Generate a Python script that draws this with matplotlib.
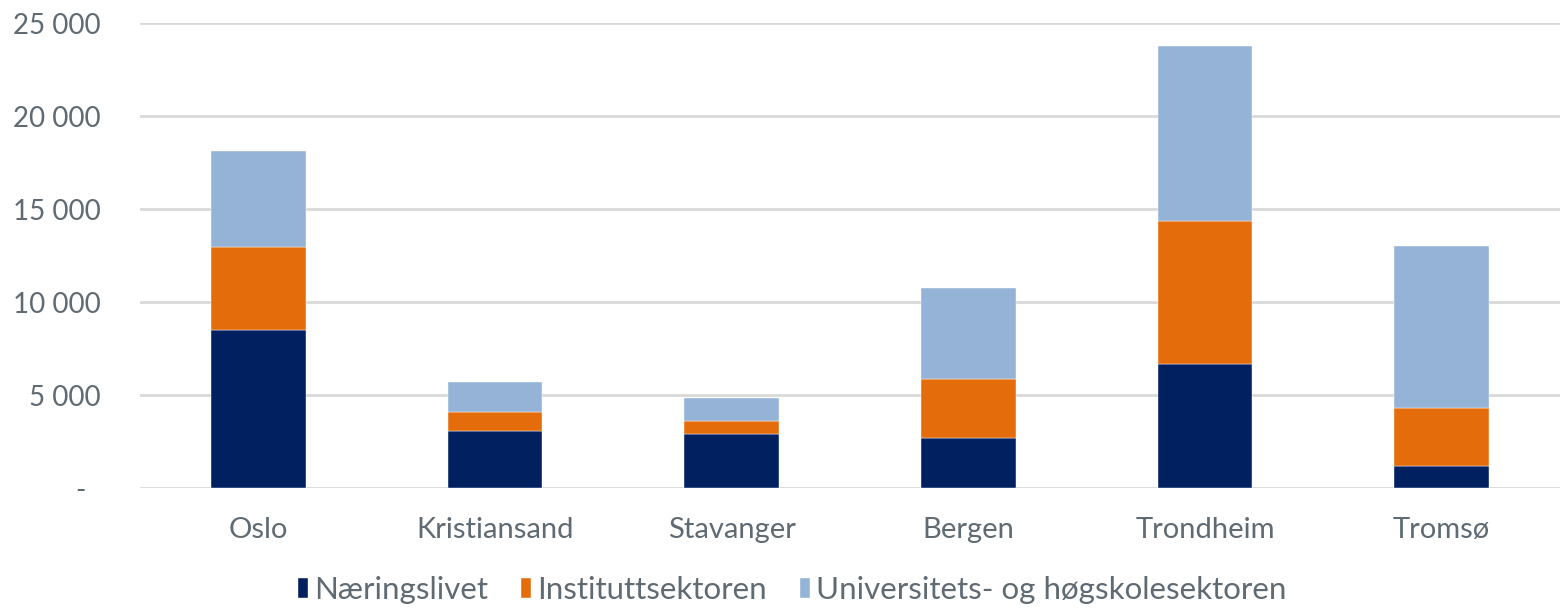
import matplotlib.pyplot as plt
import numpy as np
from matplotlib.ticker import FuncFormatter

# regions and FoU-årsverk per sector
cities = ["Oslo", "Kristiansand", "Stavanger", "Bergen", "Trondheim", "Tromsø"]
naeringslivet = [8500, 3060, 2900, 2690, 6670, 1180]
instituttsektoren = [4460, 1030, 700, 3170, 7680, 3120]
uh_sektoren = [5160, 1610, 1240, 4890, 9410, 8710]

series = ["Næringslivet", "Instituttsektoren", "Universitets- og høgskolesektoren"]
colors = ["#002060", "#E46C0A", "#95B3D7"]
text_color = "#5f6a72"

plt.rcParams["font.family"] = ["Lato", "DejaVu Sans"]

fig = plt.figure(figsize=(15.6, 6.08), dpi=100)
ax = fig.add_axes([0.0897, 0.197, 0.9103, 0.765])

x = np.arange(len(cities))
bottom = np.zeros(len(cities))
for name, vals, c in zip(series, [naeringslivet, instituttsektoren, uh_sektoren], colors):
    ax.bar(x, vals, width=0.4, bottom=bottom, color=c, label=name,
           edgecolor="white", linewidth=0.3, zorder=3)
    bottom += np.array(vals)

ax.set_xlim(-0.5, len(cities) - 0.5)
ax.set_ylim(0, 25000)
ax.set_yticks(range(0, 25001, 5000))


def fmt(v, pos):
    if v == 0:
        return "-  "
    return f"{int(v):,}".replace(",", " ")


ax.yaxis.set_major_formatter(FuncFormatter(fmt))
ax.set_xticks(x)
ax.set_xticklabels(cities)
ax.tick_params(axis="both", length=0, colors=text_color)
ax.tick_params(axis="y", pad=28, labelsize=20)
ax.tick_params(axis="x", pad=21, labelsize=21)

ax.grid(axis="y", color="#d9d9d9", linewidth=2, zorder=0)
for s in ax.spines.values():
    s.set_visible(False)

handles, labels = ax.get_legend_handles_labels()
fig.legend(handles, labels, loc="center", bbox_to_anchor=(0.508, 0.03), ncol=3,
           frameon=False, fontsize=22.5, labelcolor=text_color, handlelength=0.32,
           handleheight=0.6, handletextpad=0.2, columnspacing=1.05)

fig.savefig("out.png", dpi=100)
